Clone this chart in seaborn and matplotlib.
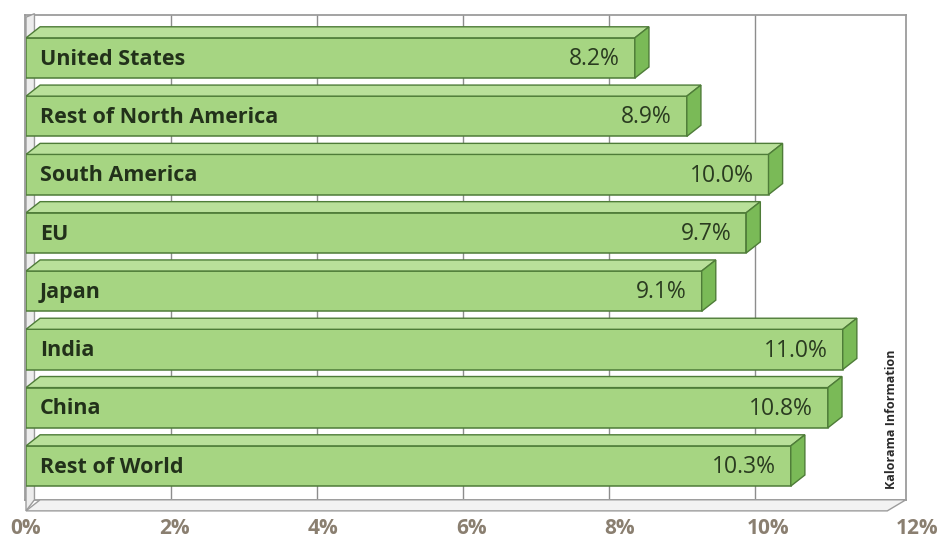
import matplotlib
matplotlib.use("Agg")
import matplotlib.pyplot as plt
from matplotlib.patches import Polygon
import seaborn as sns
import pandas as pd

regions = ["United States", "Rest of North America", "South America", "EU",
           "Japan", "India", "China", "Rest of World"]
growth = [8.2, 8.9, 10.0, 9.7, 9.1, 11.0, 10.8, 10.3]
tick_values = [0, 2, 4, 6, 8, 10, 12]
tick_labels = ["0%", "2%", "4%", "6%", "8%", "10%", "12%"]
source_note = "Kalorama Information"

df = pd.DataFrame({"region": regions, "growth": growth})

sns.set_theme(style="white")
plt.rcParams["font.family"] = ["Open Sans", "DejaVu Sans"]

W, H = 942, 544
fig = plt.figure(figsize=(W / 100, H / 100), dpi=100)
fig.patch.set_facecolor("white")

# back wall with gridlines
ax_back = fig.add_axes([25 / W, (H - 500) / H, (906 - 25) / W, (500 - 15) / H])
ax_back.set_xlim(0, 12.07)
ax_back.set_ylim(0, 1)
for v in tick_values[1:-1]:
    ax_back.axvline(v, color="#8d8d8d", lw=1.0, zorder=0)
for s in ax_back.spines.values():
    s.set_color("#9c9c9c")
    s.set_linewidth(1.3)
ax_back.set_xticks([])
ax_back.set_yticks([])
ax_back.set_facecolor("white")

# front plane holding the bars
ax = fig.add_axes([26 / W, (H - 510) / H, 891 / W, 500 / H])
ax.patch.set_alpha(0)

front_col = "#a6d582"
top_col = "#b9e09a"
end_col = "#7aba57"
edge_col = "#4e7c38"

sns.barplot(data=df, x="growth", y="region", orient="h", color=front_col,
            width=0.69, edgecolor=edge_col, linewidth=1.1, saturation=1,
            ax=ax, zorder=3)

ax.set_xlim(0, 12)
ax.set_ylim(7.755, -0.823)

dx, dy = 0.19, 0.19

# floor and left wall
floor_front = 7.77
floor_back = floor_front - dy
ax.add_patch(Polygon([(0, -0.70), (dx * 0.6, -0.76), (dx * 0.6, floor_back), (0, floor_front)],
                     closed=True, facecolor="#ededed", edgecolor="#9c9c9c",
                     lw=1.0, zorder=1, clip_on=False))
ax.add_patch(Polygon([(0, floor_front), (11.6, floor_front), (11.85, floor_back),
                      (dx, floor_back)], closed=True, facecolor="#f2f2f2",
                     edgecolor="#9c9c9c", lw=1.0, zorder=1, clip_on=False))

for patch, name, val in zip(ax.patches[:len(regions)], regions, growth):
    y0 = patch.get_y()
    h = patch.get_height()
    w = patch.get_width()
    top = Polygon([(0, y0), (w, y0), (w + dx, y0 - dy), (dx, y0 - dy)],
                  closed=True, facecolor=top_col, edgecolor=edge_col, lw=1.0,
                  zorder=3)
    end = Polygon([(w, y0), (w + dx, y0 - dy), (w + dx, y0 + h - dy), (w, y0 + h)],
                  closed=True, facecolor=end_col, edgecolor=edge_col, lw=1.0,
                  zorder=3)
    ax.add_patch(top)
    ax.add_patch(end)
    yc = y0 + h / 2
    ax.text(0.19, yc + 0.02, name, ha="left", va="center", fontsize=15.5,
            fontweight="bold", color="#22311a", zorder=5)
    ax.text(w - 0.2, yc + 0.02, f"{val:.1f}%", ha="right", va="center", fontsize=16.5,
            color="#2a3b20", zorder=5)

ax.text(11.66, 7.40, source_note, rotation=90, ha="center", va="bottom",
        fontsize=9, fontweight="bold", color="#2a2a2a", zorder=5)

for s in ax.spines.values():
    s.set_visible(False)
ax.set_ylabel("")
ax.set_xlabel("")
ax.set_yticks([])
ax.set_xticks(tick_values)
ax.set_xticklabels(tick_labels, fontsize=15, fontweight="bold", color="#8a7f70")
ax.tick_params(axis="x", length=0, pad=6)

fig.savefig("out.png", dpi=100, facecolor="white")
